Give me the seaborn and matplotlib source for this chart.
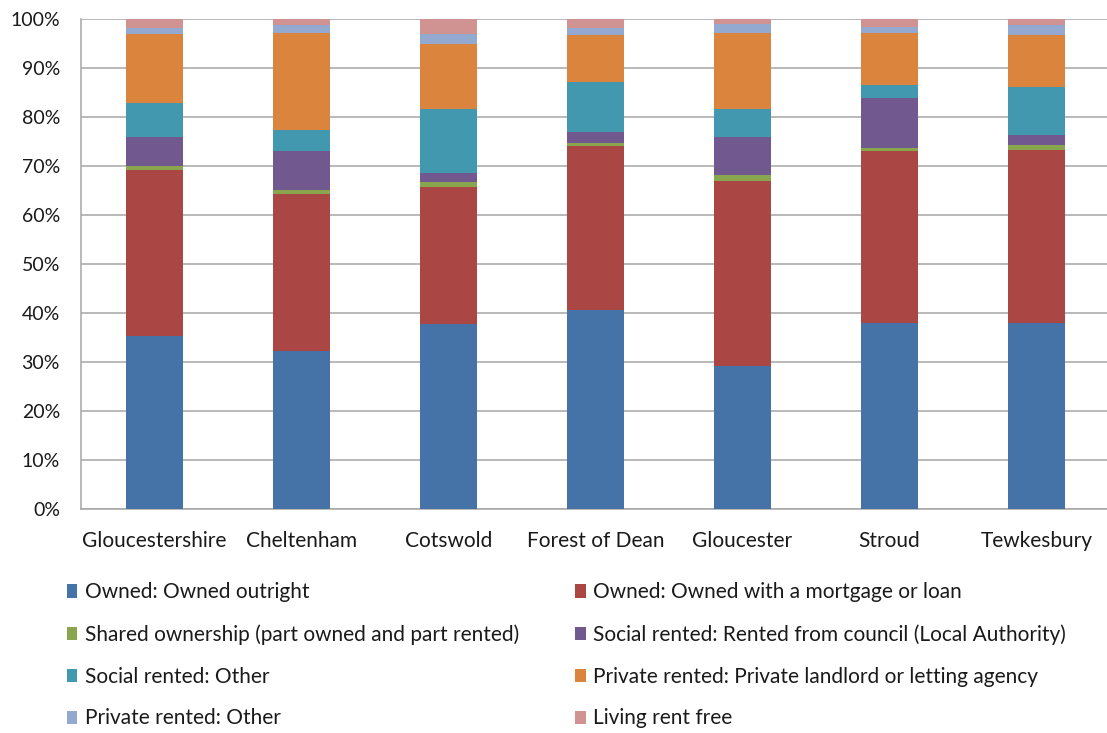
import numpy as np
import pandas as pd
import seaborn as sns
import matplotlib.pyplot as plt
from matplotlib.patches import Patch
from matplotlib.ticker import PercentFormatter, FixedLocator

areas = ['Gloucestershire', 'Cheltenham', 'Cotswold', 'Forest of Dean',
         'Gloucester', 'Stroud', 'Tewkesbury']

tenure = ['Owned: Owned outright',
          'Owned: Owned with a mortgage or loan',
          'Shared ownership (part owned and part rented)',
          'Social rented: Rented from council (Local Authority)',
          'Social rented: Other',
          'Private rented: Private landlord or letting agency',
          'Private rented: Other',
          'Living rent free']

# percentages per area
owned_outright = [35.3, 32.2, 37.7, 40.6, 29.3, 37.9, 37.9]
owned_mortgage = [33.9, 32.2, 28.0, 33.6, 37.7, 35.3, 35.5]
shared_own = [0.8, 0.7, 1.1, 0.5, 1.3, 0.5, 1.0]
social_council = [5.9, 8.1, 1.8, 2.3, 7.6, 10.2, 2.0]
social_other = [7.1, 4.2, 13.0, 10.3, 5.7, 2.6, 9.8]
private_landlord = [14.1, 19.9, 13.3, 9.6, 15.7, 10.8, 10.7]
private_other = [1.2, 1.6, 2.1, 1.4, 1.8, 1.2, 2.0]
rent_free = [1.7, 1.1, 3.0, 1.7, 0.9, 1.5, 1.1]

colors = ['#4572A7', '#AA4643', '#89A54E', '#71588F',
          '#4198AF', '#DB843D', '#93A9CF', '#D19392']

df = pd.DataFrame({
    'area': areas,
    tenure[0]: owned_outright,
    tenure[1]: owned_mortgage,
    tenure[2]: shared_own,
    tenure[3]: social_council,
    tenure[4]: social_other,
    tenure[5]: private_landlord,
    tenure[6]: private_other,
    tenure[7]: rent_free,
})
# stacked bars -> draw cumulative totals, tallest first
cum = df[tenure].cumsum(axis=1)
cum = cum.div(cum[tenure[-1]], axis=0) * 100
cum['area'] = df['area']

sns.set_style('white')
plt.rcParams['font.family'] = ['Lato', 'DejaVu Sans']

fig = plt.figure(figsize=(11.07, 7.33), dpi=100)
ax = fig.add_axes([0.073, 0.3056, 0.9295, 0.668])

for col, c in zip(tenure[::-1], colors[::-1]):
    sns.barplot(data=cum, x='area', y=col, color=c, width=0.39,
                linewidth=0, saturation=1, ax=ax, zorder=3)

ax.set_xlim(-0.5, 6.5)
ax.set_ylim(0, 100)
ax.yaxis.set_major_locator(FixedLocator(np.arange(0, 101, 10)))
ax.yaxis.set_major_formatter(PercentFormatter(decimals=0))
ax.grid(axis='y', color='#a6a6a6', linewidth=1.1, zorder=0)
ax.set_xlabel('')
ax.set_ylabel('')
for s in ['top', 'right']:
    ax.spines[s].set_visible(False)
for s in ['left', 'bottom']:
    ax.spines[s].set_color('#a6a6a6')
    ax.spines[s].set_linewidth(1.1)

ax.tick_params(axis='x', length=0, labelsize=15, pad=16, colors='#1a1a1a')
ax.tick_params(axis='y', length=6, width=1, color='#a6a6a6', labelsize=14,
               pad=9, labelcolor='#1a1a1a')
ax.xaxis.set_minor_locator(FixedLocator(np.arange(-0.5, 7, 1)))
ax.tick_params(axis='x', which='minor', length=5.5, width=1, color='#a6a6a6')

handles = [Patch(facecolor=c, edgecolor='none') for c in colors]
leg_kw = dict(frameon=False, fontsize=15, handlelength=0.5, handleheight=0.6,
              handletextpad=0.35, labelspacing=1.05, borderaxespad=0,
              labelcolor='#1a1a1a')
fig.legend(handles[0::2], tenure[0::2], loc='upper left',
           bbox_to_anchor=(0.053, 0.217), **leg_kw)
fig.legend(handles[1::2], tenure[1::2], loc='upper left',
           bbox_to_anchor=(0.512, 0.217), **leg_kw)

fig.savefig('out.png', dpi=100)
